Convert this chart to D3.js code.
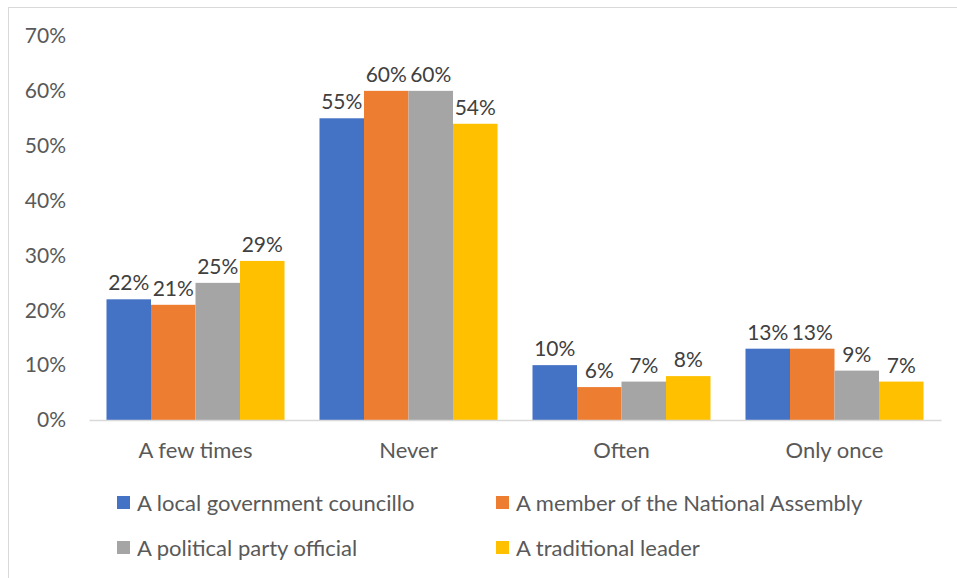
<!DOCTYPE html>
<html>
<head>
<meta charset="utf-8">
<script src="https://cdn.jsdelivr.net/npm/d3@7"></script>
<style>
  html, body { margin: 0; padding: 0; background: #fff; }
  svg { display: block; }
  text { font-family: Lato, "Open Sans", sans-serif; }
</style>
</head>
<body>
<svg id="chart" width="957" height="578"></svg>
<script>
// Frequency of contact, by type of representative (percent)
const categories = ["A few times", "Never", "Often", "Only once"];
const seriesNames = [
  "A local government councillo",
  "A member of the National Assembly",
  "A political party official",
  "A traditional leader"
];
const councillor = [22, 55, 10, 13];
const assemblyMember = [21, 60, 6, 13];
const partyOfficial = [25, 60, 7, 9];
const traditionalLeader = [29, 54, 8, 7];
const colors = ["#4472C4", "#ED7D31", "#A5A5A5", "#FFC000"];
const yTicks = [0, 10, 20, 30, 40, 50, 60, 70];

const seriesValues = [councillor, assemblyMember, partyOfficial, traditionalLeader];

const svg = d3.select("#chart");

// chart frame
svg.append("rect")
  .attr("x", 8.5).attr("y", 7.5)
  .attr("width", 980).attr("height", 600)
  .attr("fill", "none").attr("stroke", "#d9d9d9").attr("stroke-width", 1);

const plot = { left: 89, right: 941, top: 36, bottom: 420 };

const x0 = d3.scaleBand()
  .domain(categories)
  .range([plot.left, plot.right])
  .paddingInner(0)
  .paddingOuter(0);

const x1 = d3.scaleBand()
  .domain(d3.range(seriesNames.length))
  .range([0, x0.bandwidth()])
  .paddingOuter(0.393)
  .paddingInner(0);

const y = d3.scaleLinear().domain([0, 70]).range([plot.bottom, plot.top]);

// y axis labels
const yAxis = d3.axisLeft(y)
  .tickValues(yTicks)
  .tickFormat(d => d + "%")
  .tickSize(0)
  .tickPadding(0);
const yG = svg.append("g")
  .attr("transform", `translate(66,0)`)
  .call(yAxis);
yG.select(".domain").remove();
yG.selectAll("text")
  .attr("fill", "#595959")
  .attr("font-size", 21)
  .attr("font-family", "Lato, 'Open Sans', sans-serif");

// bars
const groups = svg.append("g").selectAll("g")
  .data(categories)
  .join("g")
  .attr("transform", d => `translate(${x0(d)},0)`);

groups.selectAll("rect")
  .data((c, ci) => seriesValues.map((vals, si) => ({ si, v: vals[ci] })))
  .join("rect")
  .attr("x", d => x1(d.si))
  .attr("width", x1.bandwidth())
  .attr("y", d => y(d.v))
  .attr("height", d => y(0) - y(d.v))
  .attr("fill", d => colors[d.si]);

groups.selectAll("text.val")
  .data((c, ci) => seriesValues.map((vals, si) => ({ si, v: vals[ci] })))
  .join("text")
  .attr("class", "val")
  .attr("x", d => x1(d.si) + x1.bandwidth() / 2)
  .attr("y", d => y(d.v) - 9)
  .attr("text-anchor", "middle")
  .attr("fill", "#404040")
  .attr("font-size", 21)
  .text(d => d.v + "%");

// x axis
const xAxis = d3.axisBottom(x0).tickSize(0).tickPadding(0);
const xG = svg.append("g")
  .attr("transform", `translate(0,${plot.bottom})`)
  .call(xAxis);
xG.select(".domain").attr("stroke", "#d9d9d9").attr("stroke-width", 1.3);
xG.selectAll("text")
  .attr("dy", 0)
  .attr("y", 38)
  .attr("fill", "#595959")
  .attr("font-size", 22)
  .attr("font-family", "Lato, 'Open Sans', sans-serif");

// legend
const legendPos = [
  { x: 117, y: 503 }, { x: 496, y: 503 },
  { x: 117, y: 548 }, { x: 496, y: 548 }
];
const legend = svg.append("g").selectAll("g")
  .data(seriesNames)
  .join("g")
  .attr("transform", (d, i) => `translate(${legendPos[i].x},${legendPos[i].y})`);
legend.append("rect")
  .attr("x", 0).attr("y", -7)
  .attr("width", 13).attr("height", 13)
  .attr("fill", (d, i) => colors[i]);
legend.append("text")
  .attr("x", 20).attr("y", 8)
  .attr("fill", "#595959")
  .attr("font-size", 22)
  .text(d => d);
</script>
</body>
</html>
